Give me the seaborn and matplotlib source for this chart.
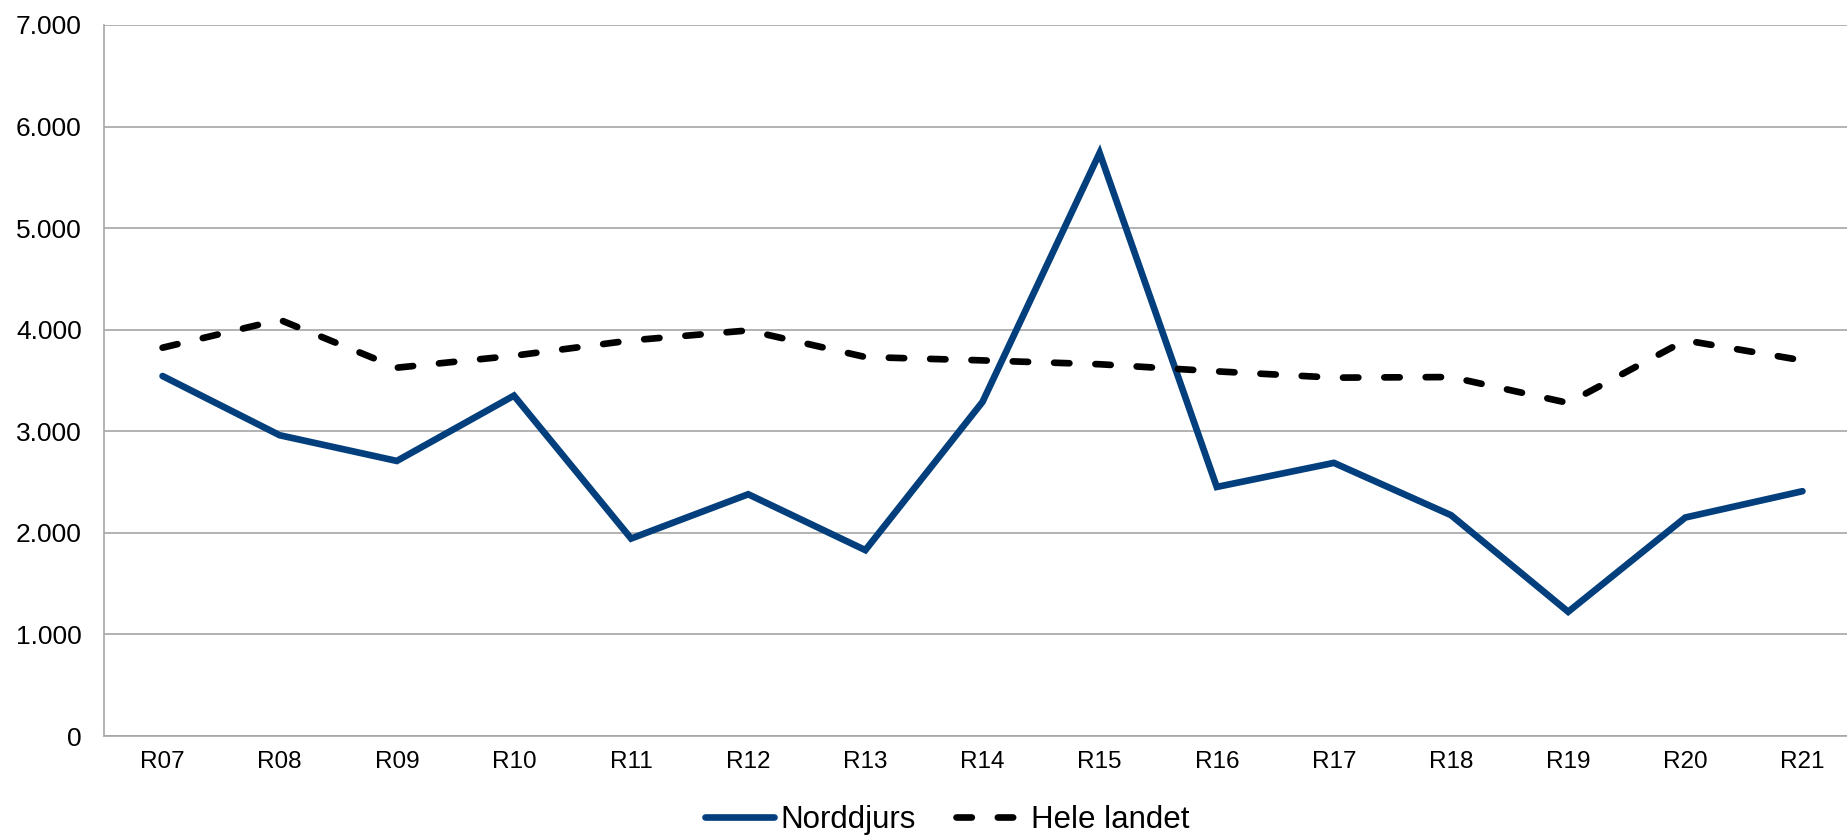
import matplotlib
matplotlib.use('Agg')
import matplotlib.pyplot as plt
import matplotlib.ticker as mticker
import numpy as np
import seaborn as sns

periods = ['R07', 'R08', 'R09', 'R10', 'R11', 'R12', 'R13', 'R14',
           'R15', 'R16', 'R17', 'R18', 'R19', 'R20', 'R21']
norddjurs = [3544, 2961, 2708, 3351, 1944, 2380, 1830, 3289,
             5740, 2452, 2689, 2174, 1223, 2151, 2410]
hele_landet = [3823, 4098, 3626, 3744, 3895, 3993, 3731, 3698,
               3660, 3590, 3528, 3534, 3279, 3895, 3698]
y_ticks = [0, 1000, 2000, 3000, 4000, 5000, 6000, 7000]

sns.set_style('white')
plt.rcParams['font.family'] = ['Liberation Sans', 'DejaVu Sans']
plt.rcParams['text.color'] = 'black'
plt.rcParams['xtick.labelcolor'] = 'black'
plt.rcParams['ytick.labelcolor'] = 'black'

fig = plt.figure(figsize=(18.47, 8.38), dpi=100)
# the original chart is cut off at the right edge, so the axes run past it
ax = fig.add_axes([104 / 1847, 1 - 736 / 838, 1757 / 1847, 711 / 838])

sns.lineplot(x=periods, y=norddjurs, ax=ax, color='#023f7c', linewidth=4.8,
             solid_capstyle='round', solid_joinstyle='miter', label='Norddjurs')
sns.lineplot(x=periods, y=hele_landet, ax=ax, color='black', linewidth=4.8,
             linestyle=(0, (2.3, 3.9)), dash_capstyle='round', label='Hele landet')

ax.set_xlim(-0.5, len(periods) - 0.5)
ax.set_ylim(0, 7000)
ax.set_yticks(y_ticks)
ax.yaxis.set_major_formatter(mticker.FuncFormatter(lambda v, p: f'{int(v):,}'.replace(',', '.')))
ax.grid(axis='y', color='#a6a6a6', linewidth=1.2)
ax.set_axisbelow(True)

ax.set_xticks(range(len(periods)))
ax.set_xticklabels(periods)
ax.set_xticks(np.arange(-0.5, len(periods)), minor=True)
ax.tick_params(axis='x', which='major', length=0, pad=11, labelsize=17.5)
ax.tick_params(axis='x', which='minor', length=6, width=1.2, color='#a6a6a6', direction='out')
ax.tick_params(axis='y', length=6, width=1.2, color='#a6a6a6', direction='out', pad=10, labelsize=19)
ax.set_xlabel('')
ax.set_ylabel('')

for side in ['top', 'right']:
    ax.spines[side].set_visible(False)
for side in ['left', 'bottom']:
    ax.spines[side].set_color('#a6a6a6')
    ax.spines[side].set_linewidth(1.2)

ax.legend(loc='center', bbox_to_anchor=(0.513, 0.0215), bbox_transform=fig.transFigure,
          ncol=2, frameon=False, fontsize=22.5, handlelength=2.2, handletextpad=0.2,
          columnspacing=1.3, borderpad=0)

fig.savefig('out.png', dpi=100)
